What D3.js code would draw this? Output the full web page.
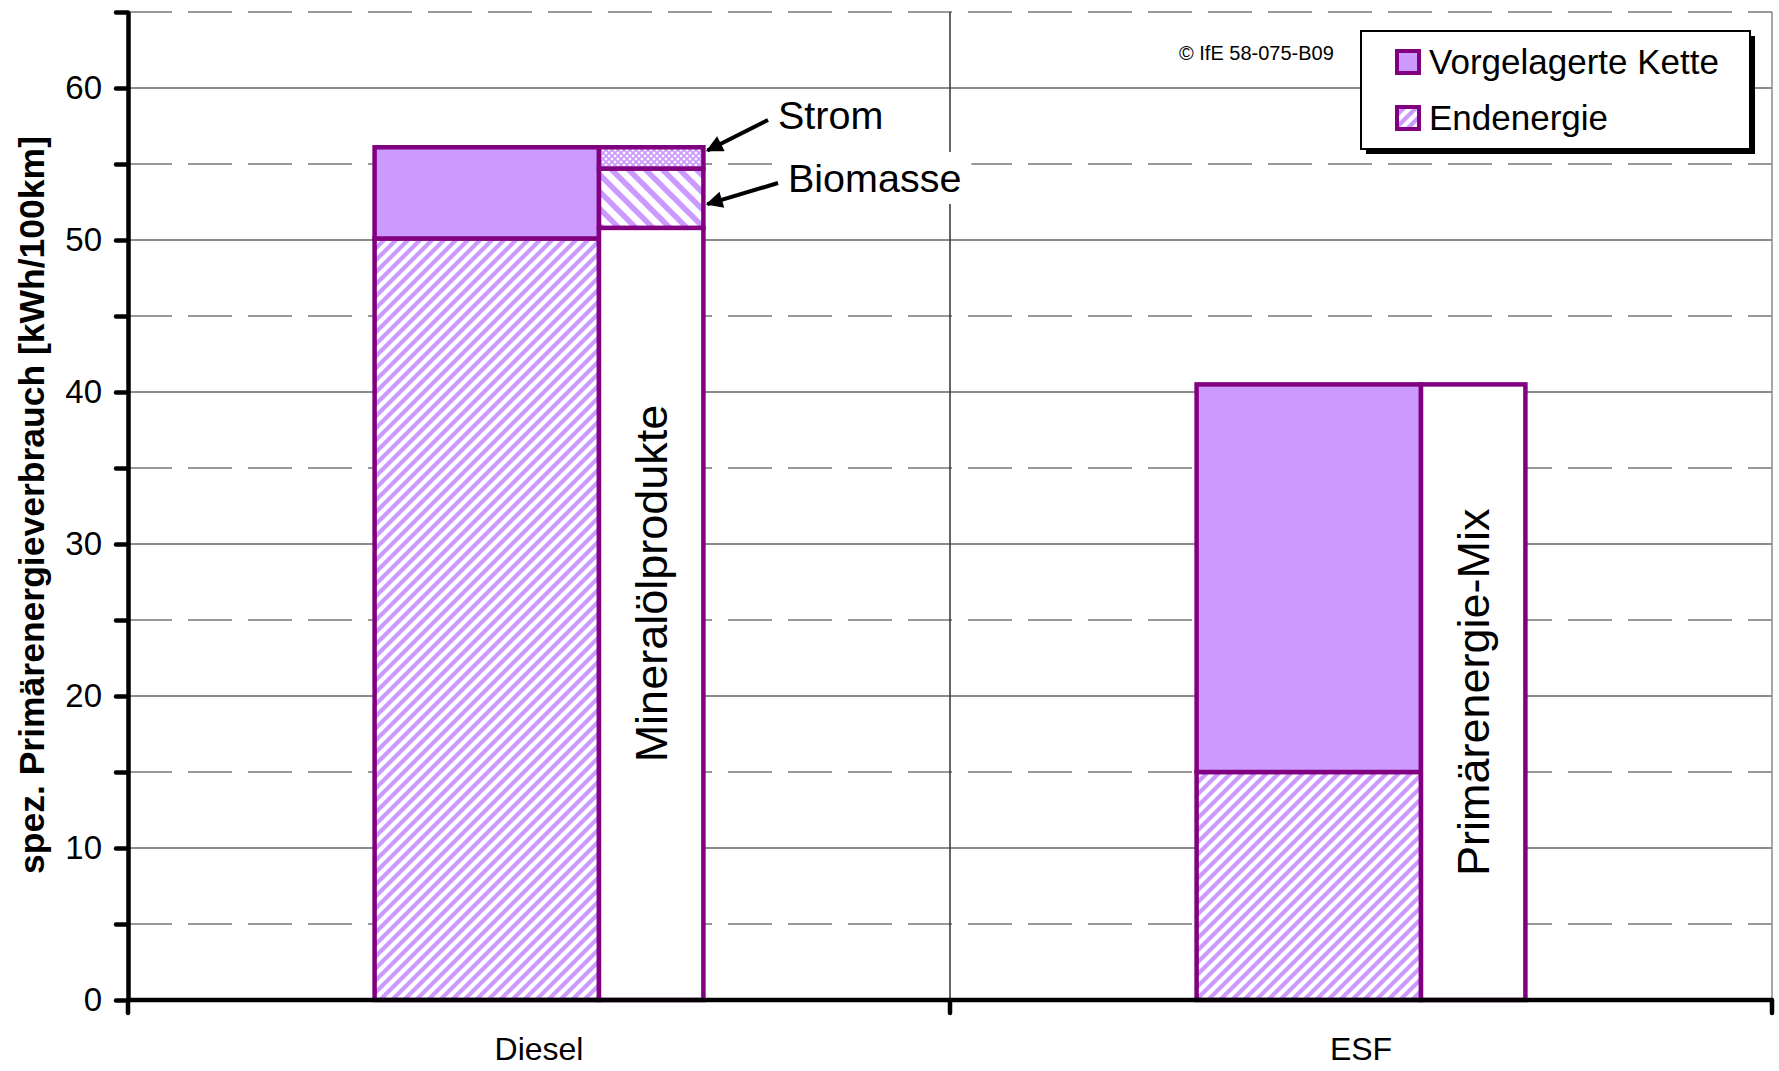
<!DOCTYPE html>
<html><head><meta charset="utf-8">
<script src="https://cdn.jsdelivr.net/npm/d3@7"></script>
<style>
body{margin:0;background:#fff}
svg{display:block}
text{font-family:"Liberation Sans",Arial,Helvetica,sans-serif;fill:#000}
</style>
</head><body>
<svg id="chart" width="1779" height="1071"></svg>
<script>
// ---------- data ----------
const categories = ["Diesel", "ESF"];
const seriesNames = ["Vorgelagerte Kette", "Endenergie"];
const endenergie = [50.1, 15.0];
const vorgelagerteKette = [6.0, 25.5];
const herkunftLabels = [["Mineralölprodukte", "Biomasse", "Strom"], ["Primärenergie-Mix"]];
const herkunftValues = [[50.8, 3.9, 1.4], [40.5]];
const yMajorTicks = [0, 10, 20, 30, 40, 50, 60];
const yMinorTicks = [5, 15, 25, 35, 45, 55, 65];
const yTitle = "spez. Primärenergieverbrauch [kWh/100km]";
const copyright = "© IfE 58-075-B09";

// ---------- setup ----------
const PURPLE = "#800080", LILAC = "#CC99FF";
const svg = d3.select("#chart");
const x = d3.scaleBand().domain(categories).range([128, 1772]).padding(0);
const y = d3.scaleLinear().domain([0, 65]).range([1000, 12]);
const bw = x.bandwidth();
const bar1 = c => [x(c) + 0.30 * bw, x(c) + 0.573 * bw];
const bar2 = c => [x(c) + 0.573 * bw, x(c) + 0.70 * bw];

// ---------- patterns ----------
const defs = svg.append("defs");
const pEnd = defs.append("pattern").attr("id", "hEnd").attr("patternUnits", "userSpaceOnUse")
  .attr("width", 12).attr("height", 12);
pEnd.append("rect").attr("width", 12).attr("height", 12).attr("fill", "#fff");
pEnd.append("path").attr("d", "M-3,3 L3,-3 M0,12 L12,0 M9,15 L15,9")
  .attr("stroke", LILAC).attr("stroke-width", 4.2);

const pBio = defs.append("pattern").attr("id", "hBio").attr("patternUnits", "userSpaceOnUse")
  .attr("width", 17).attr("height", 17);
pBio.append("rect").attr("width", 17).attr("height", 17).attr("fill", "#fff");
pBio.append("path").attr("d", "M0,0 L17,17 M-5,12 L5,22 M12,-5 L22,5")
  .attr("stroke", LILAC).attr("stroke-width", 5.5);

const pStr = defs.append("pattern").attr("id", "hStr").attr("patternUnits", "userSpaceOnUse")
  .attr("width", 6).attr("height", 6);
pStr.append("rect").attr("width", 6).attr("height", 6).attr("fill", "#fff");
pStr.append("path").attr("d", "M0,0 L6,6 M6,0 L0,6").attr("stroke", LILAC).attr("stroke-width", 1.8);

defs.append("marker").attr("id", "arr").attr("viewBox", "0 0 10 10").attr("refX", 9).attr("refY", 5)
  .attr("markerWidth", 5.5).attr("markerHeight", 4.2).attr("markerUnits", "strokeWidth").attr("orient", "auto")
  .append("path").attr("d", "M0,0 L10,5 L0,10 Z").attr("fill", "#000");

// ---------- gridlines ----------
const [xl, xr] = x.range();
svg.append("g").selectAll("line").data(yMinorTicks).join("line")
  .attr("x1", xl).attr("x2", xr).attr("y1", d => y(d)).attr("y2", d => y(d))
  .attr("stroke", "#777").attr("stroke-width", 1.5).attr("stroke-dasharray", "44,16");
svg.append("g").selectAll("line").data(yMajorTicks.filter(d => d > 0)).join("line")
  .attr("x1", xl).attr("x2", xr).attr("y1", d => y(d)).attr("y2", d => y(d))
  .attr("stroke", "#666").attr("stroke-width", 1.5);
// vertical separators
const bounds = categories.map(c => x(c)).concat([xr]);
svg.append("g").selectAll("line").data(bounds.slice(1)).join("line")
  .attr("x1", d => d).attr("x2", d => d).attr("y1", y(65)).attr("y2", y(0))
  .attr("stroke", (d, i) => i === bounds.length - 2 ? "#888" : "#333").attr("stroke-width", 1.5);

// ---------- bars ----------
const gb = svg.append("g");
categories.forEach((c, i) => {
  const [a, b] = bar1(c);
  gb.append("rect").attr("x", a).attr("width", b - a)
    .attr("y", y(endenergie[i])).attr("height", y(0) - y(endenergie[i]))
    .attr("fill", "url(#hEnd)").attr("stroke", PURPLE).attr("stroke-width", 4.5);
  const top = endenergie[i] + vorgelagerteKette[i];
  gb.append("rect").attr("x", a).attr("width", b - a)
    .attr("y", y(top)).attr("height", y(endenergie[i]) - y(top))
    .attr("fill", LILAC).attr("stroke", PURPLE).attr("stroke-width", 4.5);
});
const segFill = {"Mineralölprodukte": "#fff", "Biomasse": "url(#hBio)", "Strom": "url(#hStr)", "Primärenergie-Mix": "#fff"};
categories.forEach((c, i) => {
  const [a, b] = bar2(c);
  let base = 0;
  herkunftValues[i].forEach((v, j) => {
    gb.append("rect").attr("x", a).attr("width", b - a)
      .attr("y", y(base + v)).attr("height", y(base) - y(base + v))
      .attr("fill", segFill[herkunftLabels[i][j]]).attr("stroke", PURPLE).attr("stroke-width", 4.5);
    base += v;
  });
});

// labels inside the second bars
const inside = [{c: 0, v: 27.4}, {c: 1, v: 20.25}];
inside.forEach(o => {
  const [a, b] = bar2(categories[o.c]);
  svg.append("text").attr("transform", `translate(${(a + b) / 2 + 16},${y(o.v)}) rotate(-90)`)
    .attr("text-anchor", "middle").attr("font-size", 45).text(herkunftLabels[o.c][0]);
});

// annotations for small segments
const ann = [
  {label: "Strom", tx: 778, ty: 129, seg: 2, frac: 0.85, from: [768, 120]},
  {label: "Biomasse", tx: 788, ty: 192, seg: 1, frac: 0.4, from: [778, 183]}
];
ann.forEach(o => {
  const [a, b] = bar2(categories[0]);
  const lo = d3.sum(herkunftValues[0].slice(0, o.seg));
  const tipY = y(lo + herkunftValues[0][o.seg] * o.frac);
  const t = svg.append("text").attr("x", o.tx).attr("y", o.ty).attr("font-size", 39.5).text(o.label);
  const bb = t.node().getBBox();
  svg.insert("rect", "text:last-of-type").attr("x", bb.x - 10).attr("y", bb.y - 4)
    .attr("width", bb.width + 20).attr("height", bb.height + 8).attr("fill", "#fff");
  t.raise();
  svg.append("line").attr("x1", o.from[0]).attr("y1", o.from[1]).attr("x2", b + 4).attr("y2", tipY)
    .attr("stroke", "#000").attr("stroke-width", 4).attr("marker-end", "url(#arr)");
});

// ---------- axes ----------
const yAxis = d3.axisLeft(y).tickValues(yMajorTicks.concat(yMinorTicks).sort((p, q) => p - q))
  .tickSize(12).tickSizeOuter(0).tickPadding(14)
  .tickFormat(d => yMajorTicks.includes(d) ? d : "");
const ga = svg.append("g").attr("transform", `translate(${xl},0)`).call(yAxis);
ga.select(".domain").attr("stroke", "#000").attr("stroke-width", 4.5);
ga.selectAll(".tick line").attr("stroke", "#000").attr("stroke-width", 4.5).attr("stroke-linecap", "round");
ga.selectAll(".tick text").attr("font-size", 33).attr("font-family", "'Liberation Sans',Arial,sans-serif").attr("fill", "#000");

svg.append("line").attr("x1", xl).attr("x2", xr).attr("y1", y(0)).attr("y2", y(0))
  .attr("stroke", "#000").attr("stroke-width", 4.5);
svg.append("g").selectAll("line").data(bounds).join("line")
  .attr("x1", d => d).attr("x2", d => d).attr("y1", y(0)).attr("y2", y(0) + 13)
  .attr("stroke", "#000").attr("stroke-width", 4.5).attr("stroke-linecap", "round");
svg.append("g").selectAll("text").data(categories).join("text")
  .attr("x", d => x(d) + bw / 2).attr("y", 1060).attr("text-anchor", "middle")
  .attr("font-size", 32).text(d => d);

svg.append("text").attr("transform", `translate(44,505) rotate(-90)`).attr("text-anchor", "middle")
  .attr("font-size", 35.5).attr("font-weight", "bold").text(yTitle);

// ---------- copyright & legend ----------
svg.append("text").attr("x", 1179).attr("y", 60).attr("font-size", 20).text(copyright);
const lg = svg.append("g");
lg.append("rect").attr("x", 1366).attr("y", 36).attr("width", 389).attr("height", 118).attr("fill", "#000");
lg.append("rect").attr("x", 1361).attr("y", 31).attr("width", 389).attr("height", 118)
  .attr("fill", "#fff").attr("stroke", "#000").attr("stroke-width", 2);
const legFill = ["#CC99FF", "url(#hEnd)"];
seriesNames.forEach((s, i) => {
  const cy = 62 + i * 56;
  lg.append("rect").attr("x", 1397).attr("y", cy - 11).attr("width", 22).attr("height", 22)
    .attr("fill", legFill[i]).attr("stroke", PURPLE).attr("stroke-width", 4);
  lg.append("text").attr("x", 1429).attr("y", cy).attr("dy", "0.35em").attr("font-size", 35).text(s);
});
</script>
</body></html>
